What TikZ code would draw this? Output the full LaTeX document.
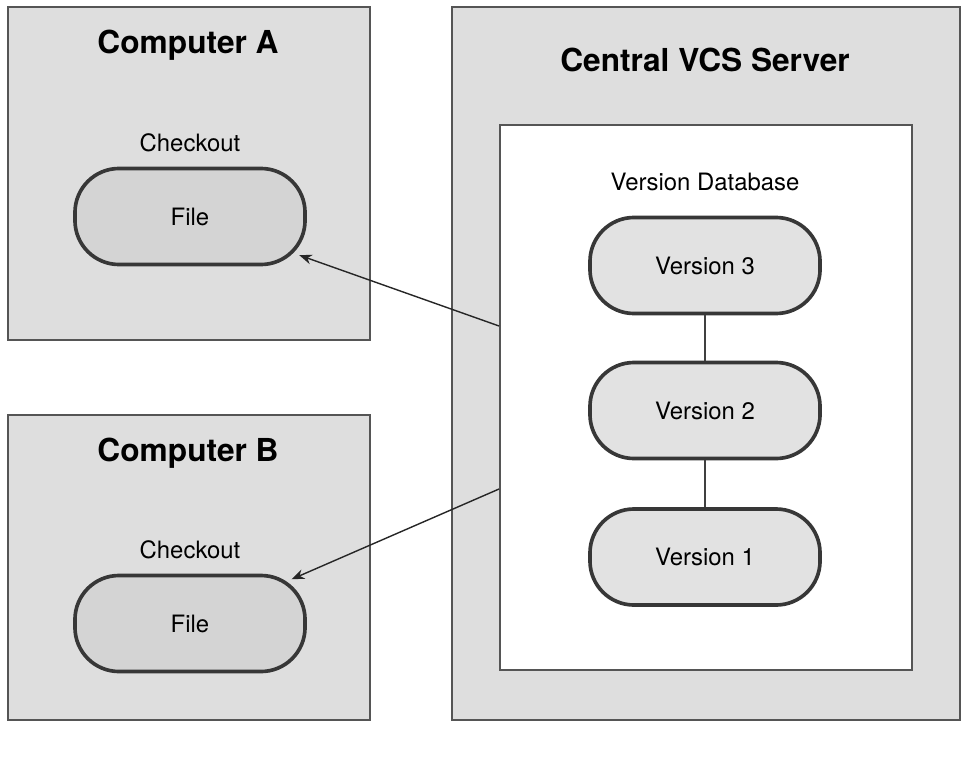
\documentclass[tikz,border=0pt]{standalone}
\usepackage{fontspec}
\setmainfont{TeX Gyre Heros}
\usepackage{xcolor}
\usetikzlibrary{arrows.meta,positioning}

\definecolor{panelgray}{RGB}{222,222,222}
\definecolor{pillgray}{RGB}{212,212,212}
\definecolor{versiongray}{RGB}{226,226,226}
\definecolor{edgegray}{RGB}{85,85,85}
\definecolor{pilledge}{RGB}{55,55,55}

\begin{document}
\begin{tikzpicture}[
    x=0.025cm, y=-0.025cm,
    >={Stealth[length=9pt,width=7pt]},
    panel/.style={
        draw=edgegray,
        fill=panelgray,
        line width=1.3pt,
        inner sep=0pt
    },
    pill/.style={
        draw=pilledge,
        line width=2.6pt,
        rounded corners=1.1cm,
        minimum width=5.75cm,
        minimum height=2.4cm,
        inner sep=0pt,
        font=\fontsize{17}{20}\selectfont
    },
    title/.style={font=\fontsize{22.5}{26}\bfseries\selectfont},
    caption/.style={font=\fontsize{17}{20}\selectfont, inner sep=2pt},
    edge/.style={->, line width=1pt, black!85},
    link/.style={line width=1pt, black!75}
]
\useasboundingbox (0,0) rectangle (970,762);

% client machines
\node[panel, minimum width=9.05cm, minimum height=8.325cm] (compA) at (189,173.5) {};
\node[panel, minimum width=9.05cm, minimum height=7.625cm] (compB) at (189,567.5) {};
\node[title] (titleA) at (188,45) {Computer A};
\node[title] (titleB) at (188,453) {Computer B};

\node[pill, fill=pillgray] (fileA) at (190,216.5) {File};
\node[pill, fill=pillgray] (fileB) at (190,623.5) {File};
\node[caption, above=0.3cm of fileA] (checkA) {Checkout};
\node[caption, above=0.3cm of fileB] (checkB) {Checkout};

% server
\node[panel, minimum width=12.7cm, minimum height=17.825cm] (server) at (706,363.5) {};
\node[draw=edgegray, fill=white, line width=1.3pt, inner sep=0pt,
      minimum width=10.3cm, minimum height=13.625cm] (db) at (706,397.5) {};
\node[title] (titleS) at (705,60) {Central VCS Server};

\node[pill, fill=versiongray] (v3) at (705,265.5) {Version 3};
\node[pill, fill=versiongray] (v2) at (705,410.5) {Version 2};
\node[pill, fill=versiongray] (v1) at (705,557) {Version 1};
\node[caption, above=0.55cm of v3] (dbname) {Version Database};

\draw[link] (v3) -- (v2);
\draw[link] (v2) -- (v1);

% checkouts
\coordinate (outA) at (db.west |- 0,326);
\coordinate (outB) at (db.west |- 0,489);
\draw[edge, shorten >=-0.2cm] (outA) -- (fileA);
\draw[edge, shorten >=-0.35cm] (outB) -- (fileB);

\end{tikzpicture}
\end{document}
